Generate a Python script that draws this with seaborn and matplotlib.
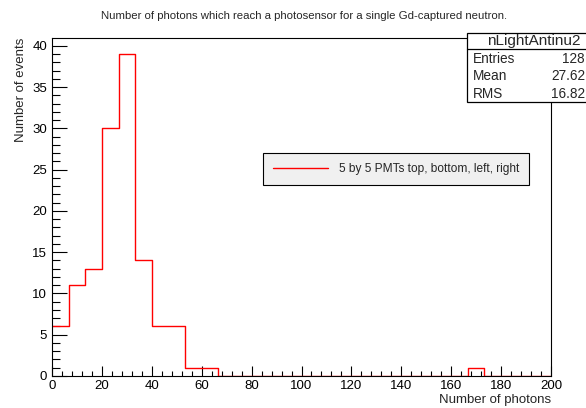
import numpy as np
import pandas as pd
import matplotlib
matplotlib.use("Agg")
import matplotlib.pyplot as plt
import seaborn as sns
from matplotlib.lines import Line2D
from matplotlib.patches import Rectangle

# histogram contents (30 bins from 0 to 200)
x_min, x_max, n_bins = 0, 200, 30
counts = [6, 11, 13, 30, 39, 14, 6, 6, 1, 1,
          0, 0, 0, 0, 0, 0, 0, 0, 0, 0,
          0, 0, 0, 0, 0, 1, 0, 0, 0, 0]
stats_labels = ["Entries", "Mean", "RMS"]
stats_values = ["128", "27.62", "16.82"]

sns.set_style("white")
plt.rcParams["font.family"] = ["Liberation Sans", "DejaVu Sans"]

fig = plt.figure(figsize=(5.86, 4.08), dpi=100)
ax = fig.add_axes([52 / 586, 32 / 408, 499 / 586, 338 / 408])

width = (x_max - x_min) / n_bins
df = pd.DataFrame({"photons": x_min + width * (np.arange(n_bins) + 0.5),
                   "count": counts})
sns.histplot(data=df, x="photons", weights="count", binwidth=width,
             binrange=(x_min, x_max), element="step", fill=False,
             color="red", linewidth=1.0, ax=ax)

ax.set_xlim(0, 200)
ax.set_ylim(0, 40.95)
ax.set_xticks(np.arange(0, 201, 20))
ax.set_xticks(np.arange(0, 201, 4), minor=True)
ax.set_yticks(np.arange(0, 41, 5))
ax.set_yticks(np.arange(0, 41, 1), minor=True)
ax.tick_params(axis="both", which="both", direction="in", labelsize=9.5,
               top=False, right=False, bottom=True, left=True, colors="black")
ax.tick_params(axis="x", which="major", length=7, width=0.8, pad=3)
ax.tick_params(axis="x", which="minor", length=3.6, width=0.8)
ax.tick_params(axis="y", which="major", length=11, width=0.8)
ax.tick_params(axis="y", which="minor", length=5.5, width=0.8)
for s in ax.spines.values():
    s.set_color("black")
    s.set_linewidth(0.8)

ax.set_xlabel("Number of photons", fontsize=9.5, loc="right", labelpad=1)
ax.set_ylabel("Number of events", fontsize=9.5, loc="top", labelpad=4)

fig.text(304 / 586, 1 - 16 / 408, "Number of photons which reach a photosensor for a single Gd-captured neutron.",
         ha="center", va="center", fontsize=8.2)

# legend box
handle = Line2D([0], [0], color="red", lw=1.0)
leg = ax.legend([handle], ["5 by 5 PMTs top, bottom, left, right"],
                loc="center", bbox_to_anchor=(396 / 586, 1 - 169 / 408),
                bbox_transform=fig.transFigure, fontsize=8.6, frameon=True,
                fancybox=False, shadow=False, handlelength=4.6, borderpad=0.8,
                handletextpad=0.9, borderaxespad=0)
leg.get_frame().set_facecolor("#f0f0f0")
leg.get_frame().set_edgecolor("black")
leg.get_frame().set_linewidth(0.8)
leg.get_frame().set_alpha(1)

# stats box
x0, x1 = 467 / 586, 1.01
y_top, y_sep, y_bot = 1 - 33 / 408, 1 - 49 / 408, 1 - 102 / 408
fig.patches.append(Rectangle((x0, y_bot), x1 - x0, y_top - y_bot, transform=fig.transFigure,
                             facecolor="white", edgecolor="black", lw=0.9, zorder=5))
fig.lines.append(Line2D([x0, x1], [y_sep, y_sep], transform=fig.transFigure,
                        color="black", lw=0.9, zorder=6))
fig.text(534 / 586, (y_top + y_sep) / 2, "nLightAntinu2", ha="center", va="center",
         fontsize=11, zorder=7)
for i, (lab, val) in enumerate(zip(stats_labels, stats_values)):
    yy = 1 - (59 + 17.5 * i) / 408
    fig.text(473 / 586, yy, lab, ha="left", va="center", fontsize=9.8, zorder=7)
    fig.text(585 / 586, yy, val, ha="right", va="center", fontsize=9.8, zorder=7)

fig.savefig("out.png", dpi=100)
